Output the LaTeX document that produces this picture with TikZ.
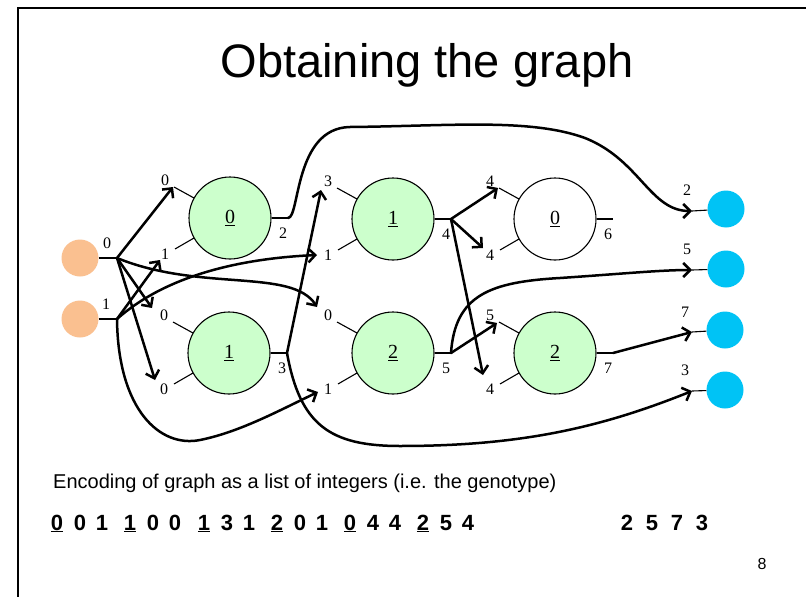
\documentclass[tikz,border=0pt]{standalone}
\usepackage{fontspec}
\setmainfont{Liberation Serif}
\newfontfamily\arialf{Liberation Sans}
\usetikzlibrary{arrows.meta,calc}
\definecolor{inorange}{RGB}{250,192,144}
\definecolor{fgreen}{RGB}{204,255,204}
\definecolor{outblue}{RGB}{0,195,245}
\tikzset{
 fn/.style={circle, draw=black, line width=1.1pt, minimum size=82pt, inner sep=0pt, font=\fontsize{20}{20}\selectfont},
 inp/.style={circle, fill=inorange, minimum size=37pt, inner sep=0pt},
 outp/.style={circle, fill=outblue, minimum size=37pt, inner sep=0pt},
 stub/.style={line width=1.1pt},
 lab/.style={font=\fontsize{16}{16}\selectfont, inner sep=0pt},
 arr/.style={line width=2.5pt, -{Straight Barb[length=7pt,width=14pt]}, line cap=round, line join=round},
 dig/.style={font=\arialf\bfseries\fontsize{22}{22}\selectfont, inner sep=0pt, anchor=base},
}
\newcommand{\gnode}[8]{%
 \node[fn,fill=#4] (#1) at (#2,#3) {\underline{#5}};
 \draw[stub] ({#2-36},{#3-20}) -- ({#2-56},{#3-31});
 \draw[stub] ({#2-36},{#3+20}) -- ({#2-55},{#3+31});
 \node[lab] (#1-la) at ({#2-65},{#3-38}) {#6};
 \node[lab] (#1-lb) at ({#2-65},{#3+36}) {#7};
 \coordinate (#1-o) at ({#2+58},{#3});
 \draw[stub] (#1) -- (#1-o);
 \node[lab] (#1-lo) at ({#2+53},{#3+15}) {#8};
}
\begin{document}
\begin{tikzpicture}[x=1pt,y=-1pt]
\useasboundingbox (0,0) rectangle (806,597);
\fill[white] (0,0) rectangle (806,597);
\draw[line width=2pt] (18,620) -- (18,8) -- (830,8);
\node[font=\arialf\fontsize{47}{50}\selectfont, anchor=base] (title) at (427,77) {Obtaining the graph};
% inputs
\node[inp] (i0) at (80,258) {};
\node[inp] (i1) at (80,319) {};
\coordinate (i0o) at (117,258);
\coordinate (i1o) at (117,319);
\draw[stub] (i0) -- (i0o);
\draw[stub] (i1) -- (i1o);
\node[lab] (i0l) at (107,243) {0};
\node[lab] (i1l) at (106,304) {1};
% function nodes
\gnode{n0}{230}{218}{fgreen}{0}{0}{1}{2}
\gnode{n1}{229}{353}{fgreen}{1}{0}{0}{3}
\gnode{n2}{393}{219}{fgreen}{1}{3}{1}{4}
\gnode{n3}{393}{353}{fgreen}{2}{0}{1}{5}
\gnode{n4}{555}{219}{white}{0}{4}{4}{6}
\gnode{n5}{555}{353}{fgreen}{2}{5}{4}{7}
% outputs
\node[outp] (o1) at (726,209) {};
\node[outp] (o2) at (726,269) {};
\node[outp] (o3) at (725,330) {};
\node[outp] (o4) at (725,390) {};
\coordinate (o1i) at (692,211);
\coordinate (o2i) at (692,270);
\coordinate (o3i) at (692,332);
\coordinate (o4i) at (692,391);
\draw[stub] (o1i) -- (o1);
\draw[stub] (o2i) -- (o2);
\draw[stub] (o3i) -- (o3);
\draw[stub] (o4i) -- (o4);
\node[lab] (o1l) at (687,190) {2};
\node[lab] (o2l) at (687,249) {5};
\node[lab] (o3l) at (685,312) {7};
\node[lab] (o4l) at (685,370) {3};
% arrow tips
\coordinate (n0ta) at (173,187);
\coordinate (n0tb) at (160,260);
\coordinate (n1ta) at (152,308);
\coordinate (n1tb) at (155,380);
\coordinate (n2ta) at (321,190);
\coordinate (n2tb) at (317,255);
\coordinate (n3ta) at (317,307);
\coordinate (n3tb) at (318,392);
\coordinate (n4ta) at (498,188);
\coordinate (n4tb) at (483,248);
\coordinate (n5ta) at (497,323);
\coordinate (n5tb) at (483,375);
% connections
\draw[arr] (i0o) -- (n0ta);
\draw[arr] (i0o) -- (n1ta);
\draw[arr] (i0o) -- (n1tb);
\draw[arr] (i0o) .. controls (200,292) and (292,268) .. (n3ta);
\draw[arr] (i1o) -- (n0tb);
\draw[arr] (i1o) .. controls (170,272) and (250,258) .. (n2tb);
\draw[arr] (i1o) .. controls (118,410) and (160,448) .. (200,440) .. controls (240,432) and (280,410) .. (n3tb);
\draw[arr] (n0-o) .. controls (300,218) and (294,128) .. (350,127) .. controls (450,126) and (530,118) .. (585,138) .. controls (640,160) and (650,211) .. (o1i);
\draw[arr] (n1-o) -- (n2ta);
\draw[arr] (n1-o) .. controls (300,425) and (330,446) .. (400,446) .. controls (520,446) and (600,428) .. (o4i);
\draw[arr] (n2-o) -- (n4ta);
\draw[arr] (n2-o) -- (n4tb);
\draw[arr] (n2-o) -- (n5tb);
\draw[arr] (n3-o) -- (n5ta);
\draw[arr] (n3-o) .. controls (455,295) and (490,282) .. (560,278) .. controls (620,274) and (660,270) .. (o2i);
\draw[arr] (n5-o) -- (o3i);
% text
\node[font=\arialf\fontsize{20}{20}\selectfont, anchor=base west, inner sep=0pt] (enc) at (53,488) {Encoding of graph as a list of integers (i.e. the genotype)};
\foreach \x/\d in {57/\underline{0},80/0,102/1, 130/\underline{1},153/0,175/0, 204/\underline{1},227/3,249/1, 277/\underline{2},300/0,322/1, 350/\underline{0},373/4,395/4, 423/\underline{2},446/5,468/4, 627/2,652/5,677/7,702/3}
  \node[dig] at (\x,530) {\d};
\node[font=\arialf\fontsize{16}{16}\selectfont, anchor=base, inner sep=0pt] (pg) at (762,569) {8};
\end{tikzpicture}
\end{document}
